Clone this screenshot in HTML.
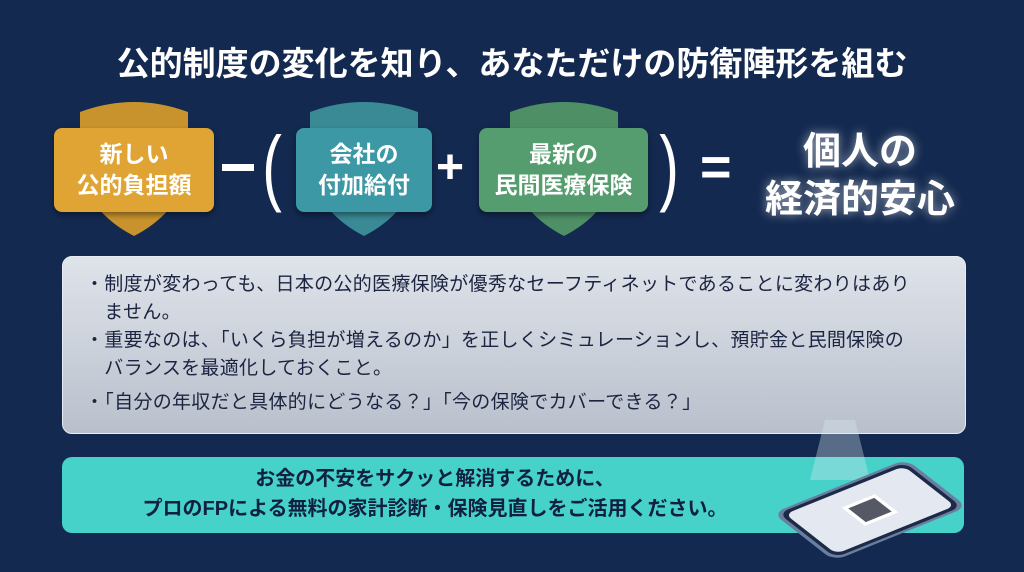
<!DOCTYPE html>
<html><head><meta charset="utf-8"><style>
body{margin:0;width:1024px;height:572px;overflow:hidden;background:#13294f;font-family:"Liberation Sans","Noto Sans CJK JP",sans-serif;position:relative}
.a{position:absolute}
.t{left:0;width:1024px;top:37px;text-align:center;color:#fff;font-size:33px;font-weight:bold}
.box{position:absolute;top:128px;height:84px;border-radius:8px;color:#fff;font-size:23px;font-weight:bold;text-align:center;line-height:31px;display:flex;align-items:center;justify-content:center;box-shadow:0 3px 6px rgba(0,0,0,.4)}
.op{position:absolute;color:#fff;font-weight:bold}
.panel{left:62px;top:256px;width:902px;height:176px;border-radius:10px;background:linear-gradient(#dfe3ea,#b9c0cc);border:1px solid #e8ecf2}
.panel div{position:absolute;left:22px;font-size:19px;color:#1b2440;line-height:28px;letter-spacing:.3px}
.bar{left:62px;top:457px;width:902px;height:76px;border-radius:10px;background:#46d1c9}
</style></head><body>
<div class="a t">公的制度の変化を知り、あなただけの防衛陣形を組む</div>
<svg class="a" style="left:0;top:0" width="1024" height="572">
<path d="M80 112 Q134 92 188 112 L188 175 Q175 215 134 236 Q93 215 80 175Z" fill="#c8932c"/>
<path d="M310 112 Q364 92 418 112 L418 175 Q405 215 364 236 Q323 215 310 175Z" fill="#3a8a95"/>
<path d="M510 112 Q564 92 618 112 L618 175 Q605 215 564 236 Q523 215 510 175Z" fill="#4f8f66"/>
</svg>
<div class="box" style="left:54px;width:160px;background:#e0a434">新しい<br>公的負担額</div>
<div class="box" style="left:296px;width:136px;background:#3c98a4">会社の<br>付加給付</div>
<div class="box" style="left:479px;width:169px;background:#559d6e">最新の<br>民間医療保険</div>
<div class="a" style="left:222px;top:164px;width:32px;height:7px;background:#fff"></div>
<div class="op" style="left:258px;top:118px;font-size:84px;font-weight:normal;transform:scaleX(.7)">(</div>
<div class="op" style="left:436px;top:140px;font-size:48px">+</div>
<div class="op" style="left:655px;top:118px;font-size:84px;font-weight:normal;transform:scaleX(.7)">)</div>
<div class="op" style="left:700px;top:136px;font-size:54px">=</div>
<div class="a" style="left:750px;top:128px;width:220px;text-align:center;color:#fff;font-size:38px;font-weight:bold;line-height:48px;text-shadow:0 0 10px rgba(255,255,255,.6)">個人の<br>経済的安心</div>
<div class="a panel">
<div style="top:14px">・制度が変わっても、日本の公的医療保険が優秀なセーフティネットであることに変わりはあり<br>　ません。</div>
<div style="top:70px">・重要なのは、「いくら負担が増えるのか」を正しくシミュレーションし、預貯金と民間保険の<br>　バランスを最適化しておくこと。</div>
<div style="top:132px">・「自分の年収だと具体的にどうなる？」「今の保険でカバーできる？」</div>
</div>
<div class="a bar"></div>
<div class="a" style="left:40px;width:790px;top:464px;text-align:center;font-size:20px;font-weight:bold;color:#10203f;line-height:30px">お金の不安をサクッと解消するために、<br>プロのFPによる無料の家計診断・保険見直しをご活用ください。</div>
<svg class="a" style="left:770px;top:420px" width="200" height="152">
<polygon points="55,0 85,0 100,60 40,60" fill="#dbe8f0" opacity=".35"/>
<g transform="translate(100,90) rotate(-22) skewX(30) scale(1,.8)">
<rect x="-72" y="-42" width="144" height="84" rx="12" fill="#6a7fa0"/>
<rect x="-68" y="-39" width="136" height="78" rx="10" fill="#1c2a48"/>
<rect x="-64" y="-35" width="128" height="70" rx="8" fill="#e4e8f0"/>
<rect x="-18" y="-16" width="36" height="32" fill="#fff"/>
<rect x="-14" y="-12" width="28" height="24" fill="#2a3040" opacity=".8"/>
</g>
</svg>
</body></html>
